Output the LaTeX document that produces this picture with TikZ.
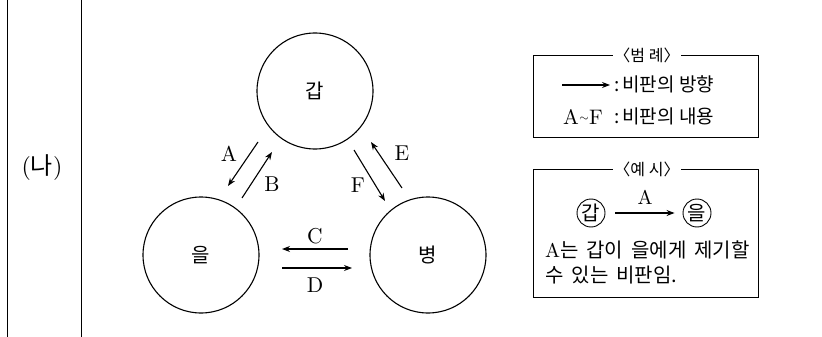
\documentclass[tikz,border=0pt]{standalone}
\usepackage{fontspec}
\setmainfont{lmroman10-regular.otf}
\newfontfamily\kr{Noto Sans CJK KR}
\usetikzlibrary{arrows.meta}
\begin{document}
\begin{tikzpicture}[x=1pt,y=-1pt,
  big/.style={draw,circle,minimum size=116pt,line width=1.1pt,font=\fontsize{20}{22}\kr},
  arr/.style={line width=1.1pt,-{Stealth[length=8pt,width=6pt]}},
  lab/.style={font=\fontsize{21.5}{23}\selectfont},
  box/.style={line width=0.9pt},
  ttl/.style={fill=white,inner xsep=1pt,font=\fontsize{16}{18}\kr},
  ktxt/.style={font=\fontsize{19}{21}\kr,inner sep=0pt},
  etxt/.style={font=\fontsize{20}{22}\kr,inner sep=0pt},
  small/.style={draw,circle,inner sep=0.5pt,minimum size=28pt,line width=0.9pt,font=\fontsize{20}{22}\kr}]
\useasboundingbox (0,0) rectangle (822,337);
% frame lines
\coordinate (t1) at (7,0); \coordinate (b1) at (7,337);
\coordinate (t2) at (81,0); \coordinate (b2) at (81,337);
\draw[line width=0.9pt] (t1) -- (b1);
\draw[line width=0.9pt] (t2) -- (b2);
\node[font=\fontsize{24}{26}\selectfont] (na) at (42,168) {(\kr 나\normalfont)};
% circles
\node[big] (gap) at (315,91) {갑};
\node[big] (eul) at (201,255) {을};
\node[big] (byeong) at (428,255) {병};
% arrows
\coordinate (As) at (258,142); \coordinate (Ae) at (228,186);
\coordinate (Bs) at (242,198); \coordinate (Be) at (272,152);
\coordinate (Fs) at (354,150); \coordinate (Fe) at (385,201);
\coordinate (Es) at (402,188); \coordinate (Ee) at (371,142);
\coordinate (Cs) at (348,249); \coordinate (Ce) at (282,249);
\coordinate (Ds) at (282,268); \coordinate (De) at (352,268);
\draw[arr] (As) -- (Ae);
\draw[arr] (Bs) -- (Be);
\draw[arr] (Fs) -- (Fe);
\draw[arr] (Es) -- (Ee);
\draw[arr] (Cs) -- (Ce);
\draw[arr] (Ds) -- (De);
\node[lab] (lA) at (229,154) {A};
\node[lab] (lB) at (272,184) {B};
\node[lab] (lF) at (358,185) {F};
\node[lab] (lE) at (402,153) {E};
\node[lab] (lC) at (315,236) {C};
\node[lab] (lD) at (315,285) {D};
% legend box
\draw[box] (533,55) rectangle (758,137);
\node[ttl] (t1n) at (647,55) {〈범 례〉};
\coordinate (ls) at (562,85); \coordinate (le) at (610,85);
\draw[arr] (ls) -- (le);
\node[ktxt,anchor=west] (lg1) at (614,84) {:\kern3pt 비판의 방향};
\node[anchor=east,inner sep=0pt,font=\fontsize{21}{23}\selectfont] (lg2a) at (603,117) {A\kern0.5pt\raisebox{0.3ex}{\fontsize{13}{13}\selectfont$\sim$}\kern0.5pt F};
\node[ktxt,anchor=west] (lg2) at (614,116) {:\kern3pt 비판의 내용};
% example box
\draw[box] (533,169) rectangle (758,297);
\node[ttl] (t2n) at (647,169) {〈예 시〉};
\node[small] (sg) at (591,213) {갑};
\node[small] (se) at (697,213) {을};
\draw[arr,shorten <=10pt,shorten >=8pt] (sg) -- (se);
\node[font=\fontsize{20}{22}\selectfont] (sA) at (645,197) {A};
\node[etxt,anchor=west] (x1) at (545,250) {\spaceskip=8pt\relax \normalfont A\kr 는 갑이 을에게 제기할};
\node[etxt,anchor=west] (x2) at (545,275) {\spaceskip=8pt\relax 수 있는 비판임.};
\end{tikzpicture}
\end{document}
